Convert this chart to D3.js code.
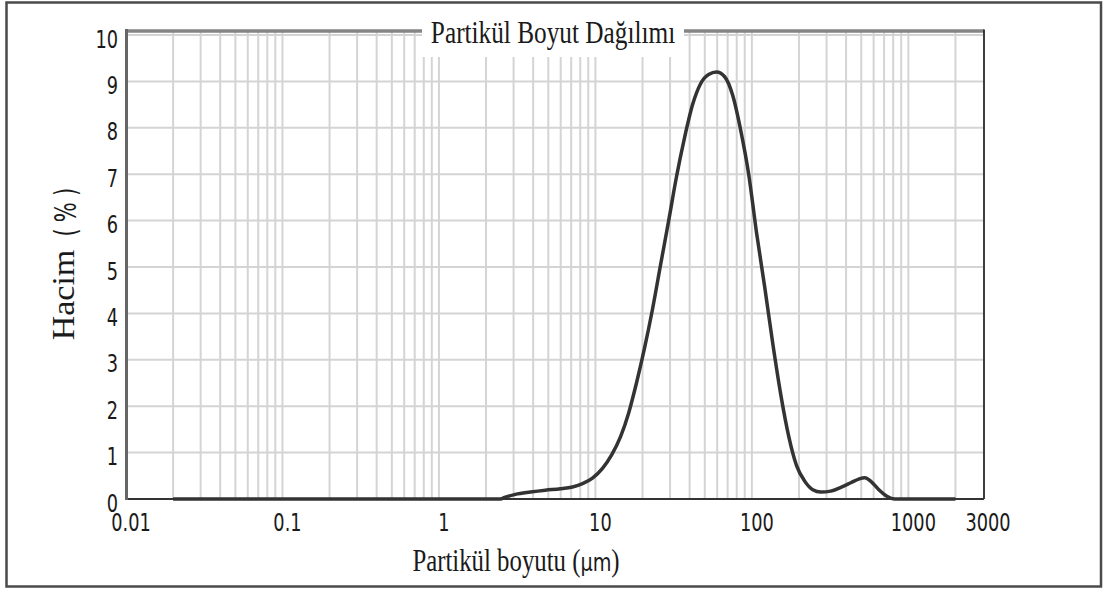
<!DOCTYPE html>
<html>
<head>
<meta charset="utf-8">
<script src="https://cdn.jsdelivr.net/npm/d3@7"></script>
<style>
  body { margin: 0; background: #fff; }
  svg { display: block; }
</style>
</head>
<body>
<div id="chart"></div>
<script>
// particle size (µm) and volume (%)
let sizes = [0.02, 2.47, 2.66, 3.08, 3.84, 4.79, 5.98, 7.14, 8.27, 9.58, 11.1, 12.7,
  14.5, 16.3, 18.3, 20.6, 23.2, 26.1, 29.4, 33.0, 37.2, 41.8, 47.0, 52.9, 59.5,
  67.0, 75.4, 84.8, 95.4, 107, 121, 136, 153, 172, 193, 218, 245, 276, 319, 370,
  429, 482, 527, 576, 648, 729, 820, 2000];
let volumes = [0, 0, 0.04, 0.1, 0.15, 0.19, 0.22, 0.26, 0.33, 0.45, 0.66, 0.95,
  1.35, 1.85, 2.5, 3.25, 4.1, 5.05, 6.0, 6.95, 7.8, 8.5, 8.95, 9.15, 9.2,
  9.1, 8.7, 7.95, 7.0, 5.75, 4.55, 3.35, 2.25, 1.35, 0.72, 0.38, 0.2, 0.15, 0.17, 0.25,
  0.35, 0.43, 0.46, 0.38, 0.2, 0.06, 0, 0];

let xTickValues = [0.01, 0.1, 1, 10, 100, 1000, 3000];
let xTickLabels = ["0.01", "0.1", "1", "10", "100", "1000", "3000"];
let yTickValues = [0, 1, 2, 3, 4, 5, 6, 7, 8, 9, 10];

let chartTitle = "Partikül Boyut Dağılımı";
let xTitle = "Partikül boyutu ";
let xUnit = "µm";
let yTitle = "Hacim";
let yUnit = "(%)";

let svgWidth = 1104;
let svgHeight = 593;

let margin = { top: 35, right: 121, bottom: 94, left: 126 };
let width = svgWidth - margin.left - margin.right;
let height = svgHeight - margin.top - margin.bottom;

let svg = d3.select("#chart").append("svg")
  .attr("width", svgWidth)
  .attr("height", svgHeight);

svg.append("rect")
  .attr("width", svgWidth).attr("height", svgHeight)
  .attr("fill", "#fff");

// outer frame
svg.append("rect")
  .attr("x", 6.5).attr("y", 2.5)
  .attr("width", 1094.5).attr("height", 584)
  .attr("fill", "none")
  .attr("stroke", "#4a4a4a")
  .attr("stroke-width", 2.5);

let chartGroup = svg.append("g")
  .attr("transform", `translate(${margin.left},${margin.top})`);

let xScale = d3.scaleLog().domain([0.01, 3000]).range([0, width]);
let yScale = d3.scaleLinear().domain([0, 10]).range([height, 0]);

// grid
let gridX = xScale.ticks().filter(v => v > 0.011 && v <= 2000);
chartGroup.append("g")
  .selectAll("line")
  .data(gridX)
  .enter()
  .append("line")
  .attr("x1", d => xScale(d)).attr("x2", d => xScale(d))
  .attr("y1", -4).attr("y2", height)
  .attr("stroke", "#d4d4d4")
  .attr("stroke-width", 2);

chartGroup.append("g")
  .selectAll("line")
  .data(yTickValues.filter(v => v > 0))
  .enter()
  .append("line")
  .attr("x1", 0).attr("x2", width)
  .attr("y1", d => yScale(d)).attr("y2", d => yScale(d))
  .attr("stroke", "#d4d4d4")
  .attr("stroke-width", 2);

// white box behind title
let titleBox = { x: 422 - margin.left, w: 262 };
chartGroup.append("rect")
  .attr("x", titleBox.x).attr("y", -14)
  .attr("width", titleBox.w).attr("height", 36)
  .attr("fill", "#fff");

// frame of plot
chartGroup.append("line")
  .attr("x1", 0).attr("x2", titleBox.x).attr("y1", -4).attr("y2", -4)
  .attr("stroke", "#858585").attr("stroke-width", 3.5);
chartGroup.append("line")
  .attr("x1", titleBox.x + titleBox.w).attr("x2", width + 1).attr("y1", -4).attr("y2", -4)
  .attr("stroke", "#858585").attr("stroke-width", 3.5);
chartGroup.append("line")
  .attr("x1", width + 1).attr("x2", width + 1).attr("y1", -5.5).attr("y2", height)
  .attr("stroke", "#2a2a2a").attr("stroke-width", 1.8);
chartGroup.append("line")
  .attr("x1", 0).attr("x2", width + 1).attr("y1", height).attr("y2", height)
  .attr("stroke", "#333").attr("stroke-width", 2);
chartGroup.append("line")
  .attr("x1", 0.5).attr("x2", 0.5).attr("y1", -6).attr("y2", height + 1)
  .attr("stroke", "#666").attr("stroke-width", 3);

// the curve
let points = sizes.map((s, i) => ({ size: s, vol: volumes[i] }));
let line = d3.line()
  .x(d => xScale(d.size))
  .y(d => yScale(d.vol))
  .curve(d3.curveMonotoneX);

chartGroup.append("path")
  .datum(points)
  .attr("d", line)
  .attr("fill", "none")
  .attr("stroke", "#333")
  .attr("stroke-width", 3.5)
  .attr("stroke-linejoin", "round");

// condensed text helper
function addText(parent, x, y, str, size, family, anchor, sx) {
  let g = parent.append("g").attr("transform", `translate(${x},${y})`);
  return g.append("text")
    .attr("transform", `scale(${sx},1)`)
    .attr("text-anchor", anchor)
    .attr("font-family", family)
    .attr("font-size", size)
    .attr("fill", "#1a1a1a")
    .text(str);
}

// y tick labels
yTickValues.forEach(v => {
  addText(chartGroup, -8, yScale(v) + 12.5, v, 24, "DejaVu Sans", "end", 0.74);
});

// x tick labels
xTickValues.forEach((v, i) => {
  addText(chartGroup, xScale(v) + 5, height + 32, xTickLabels[i], 24, "DejaVu Sans", "middle", 0.74);
});

// title
addText(svg, 553, 43, chartTitle, 32, "Liberation Serif", "middle", 0.79);

// x title
let xt = addText(svg, 516, 571, xTitle, 31, "Liberation Serif", "middle", 0.8);
xt.append("tspan").text("(");
xt.append("tspan").attr("font-family", "DejaVu Sans").attr("font-size", 24).text(xUnit);
xt.append("tspan").text(")");

// y title, two pieces
svg.append("g").attr("transform", "translate(74,295) rotate(-90)")
  .append("text")
  .attr("transform", "scale(1,0.9)")
  .attr("text-anchor", "middle")
  .attr("font-family", "Liberation Serif")
  .attr("font-size", 34)
  .attr("fill", "#1a1a1a")
  .text(yTitle);

svg.append("g").attr("transform", "translate(76,209) rotate(-90)")
  .append("text")
  .attr("transform", "scale(0.7,1)")
  .attr("text-anchor", "middle")
  .attr("font-family", "DejaVu Sans")
  .attr("font-size", 30)
  .attr("letter-spacing", 9)
  .attr("fill", "#1a1a1a")
  .text(yUnit);
</script>
</body>
</html>
